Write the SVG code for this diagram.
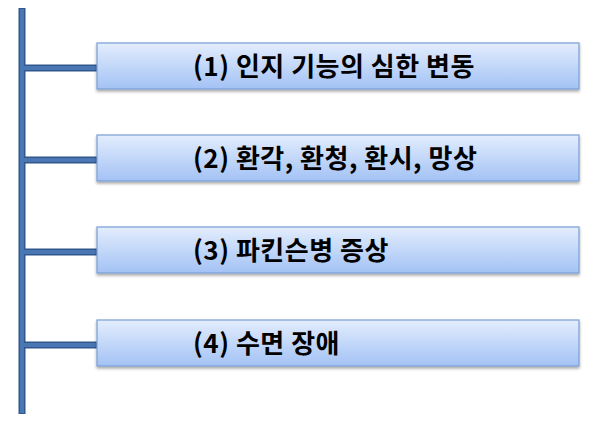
<svg xmlns="http://www.w3.org/2000/svg" width="600" height="434" viewBox="0 0 600 434">
<defs>
<linearGradient id="g" x1="0" y1="0" x2="0" y2="1">
<stop offset="0" stop-color="#e3edfd"/>
<stop offset="1" stop-color="#a3c2f5"/>
</linearGradient>
<filter id="sh" x="-5%" y="-20%" width="110%" height="150%">
<feGaussianBlur in="SourceAlpha" stdDeviation="1.5"/>
<feOffset dx="0" dy="2" result="b"/>
<feComponentTransfer><feFuncA type="linear" slope="0.35"/></feComponentTransfer>
<feMerge><feMergeNode/><feMergeNode in="SourceGraphic"/></feMerge>
</filter>
</defs>
<style>
.box{fill:url(#g);stroke:#7b9fd4;stroke-width:1.2;filter:url(#sh)}
.lnO{stroke:#30588f;stroke-width:7;stroke-linecap:butt;fill:none}
.lnI{stroke:#4a77b4;stroke-width:4;fill:none}
.t{font-family:"Noto Sans CJK KR","Malgun Gothic",sans-serif;font-weight:bold;font-size:26px;letter-spacing:0.5px;fill:#000}
</style>
<g id="connectors">
<line class="lnO" x1="22" y1="8" x2="22" y2="414"/>
<line class="lnO" x1="22" y1="68" x2="97" y2="68"/>
<line class="lnO" x1="22" y1="160" x2="97" y2="160"/>
<line class="lnO" x1="22" y1="252" x2="97" y2="252"/>
<line class="lnO" x1="22" y1="345" x2="97" y2="345"/>
<line class="lnI" x1="22" y1="9" x2="22" y2="413"/>
<line class="lnI" x1="24" y1="68" x2="96" y2="68"/>
<line class="lnI" x1="24" y1="160" x2="96" y2="160"/>
<line class="lnI" x1="24" y1="252" x2="96" y2="252"/>
<line class="lnI" x1="24" y1="345" x2="96" y2="345"/>
</g>
<g id="n1"><rect class="box" x="97" y="43" width="482" height="46"/><text class="t" x="193" y="76">(1) 인지 기능의 심한 변동</text></g>
<g id="n2"><rect class="box" x="97" y="135" width="482" height="46"/><text class="t" x="193" y="168">(2) 환각, 환청, 환시, 망상</text></g>
<g id="n3"><rect class="box" x="97" y="227" width="482" height="46"/><text class="t" x="193" y="260">(3) 파킨슨병 증상</text></g>
<g id="n4"><rect class="box" x="97" y="320" width="482" height="46"/><text class="t" x="193" y="353">(4) 수면 장애</text></g>
</svg>
